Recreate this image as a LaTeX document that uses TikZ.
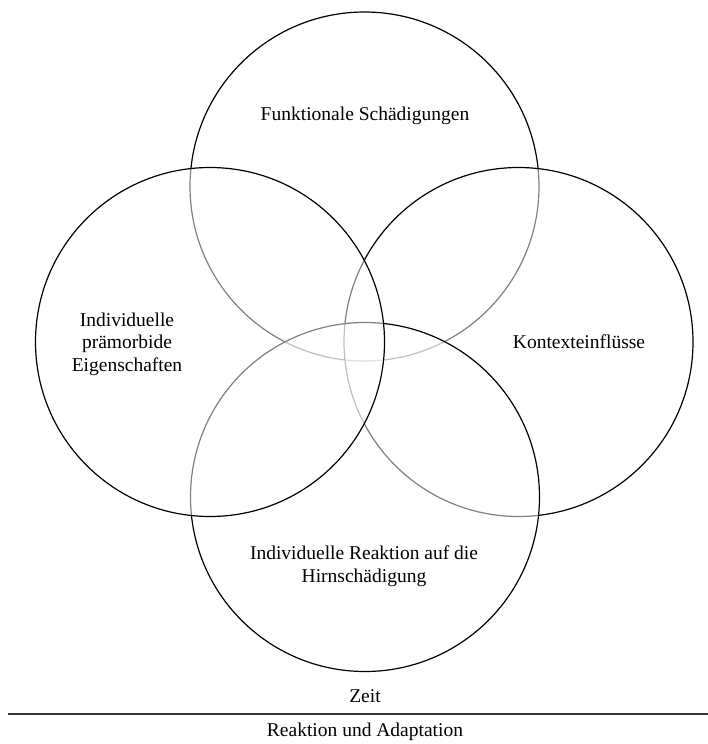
\documentclass[tikz,border=0pt]{standalone}
\usepackage{fontspec}
\setmainfont{Liberation Serif}
\usepackage{tikz}
\usetikzlibrary{calc}
\usetikzlibrary{shapes}

\begin{document}
\begin{tikzpicture}[x=1pt, y=-1pt, every node/.style={font=\fontsize{19.5}{22.5}\selectfont},
    area/.style={circle, draw=black, line width=1.2pt, fill=white, fill opacity=0.5, draw opacity=1, minimum size=349pt, inner sep=0pt},
    lbl/.style={align=center}]
    \useasboundingbox (0,0) rectangle (708,744);

    \node (Top) at (364.5,186.5) [area] {};
    \node (Right) at (518.5,342) [area] {};
    \node (Bottom) at (365,497) [area] {};
    \node (Left) at (210,342) [area] {};

    \node (TopText) at (365,116) [lbl] {Funktionale Sch\"adigungen};
    \node (LeftText) at (127,344) [lbl] {Individuelle\\pr\"amorbide\\Eigenschaften};
    \node (RightText) at (579,342) [lbl] {Kontexteinfl\"usse};
    \node (BottomText) at (364,566) [lbl] {Individuelle Reaktion auf die\\Hirnsch\"adigung};

    \coordinate (L1) at (8,714);
    \coordinate (L2) at (708,714);
    \draw [black!80, line width=1.2pt] (L1) -- (L2);

    \node (Zeit) at (365,696) {Zeit};
    \node (Reak) at (365,732) {Reaktion und Adaptation};
\end{tikzpicture}
\end{document}
